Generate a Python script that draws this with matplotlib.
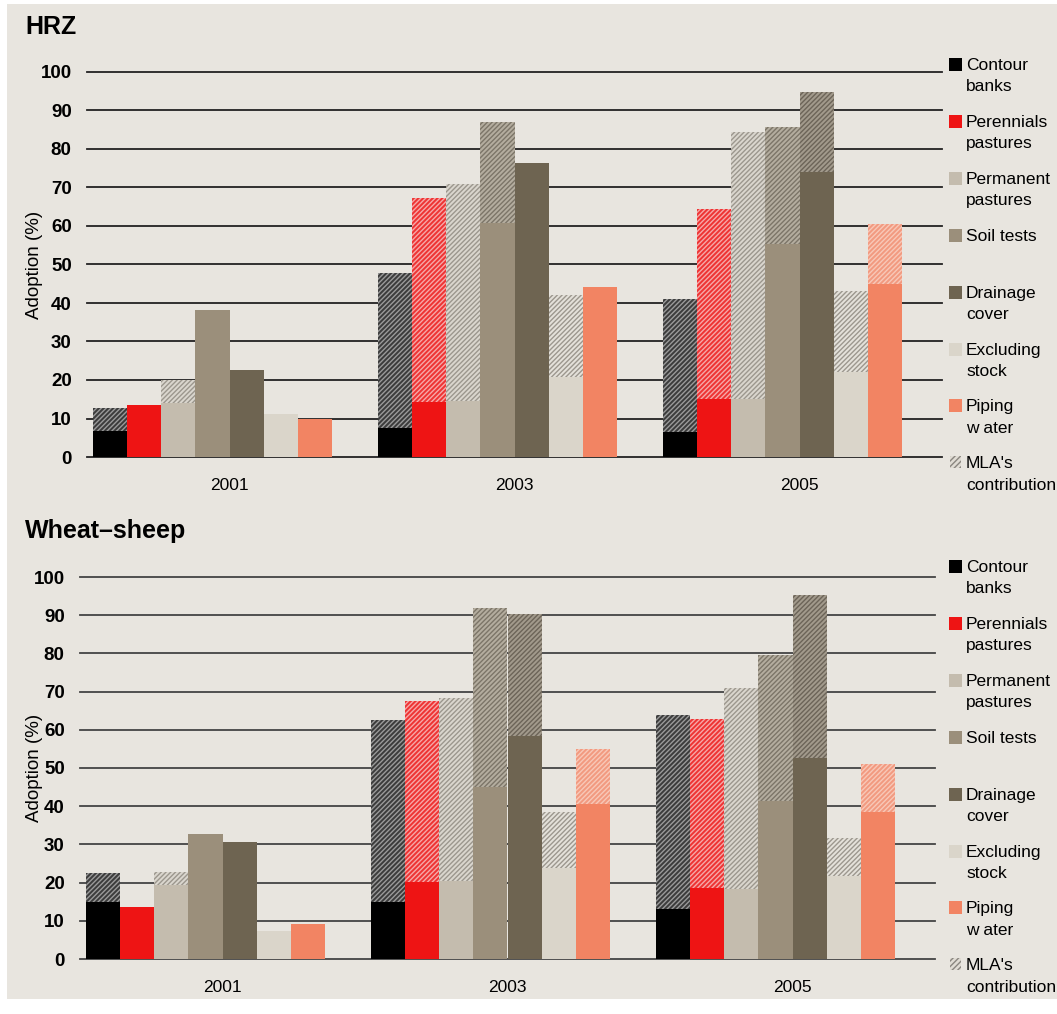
import matplotlib
matplotlib.use("Agg")
import matplotlib.pyplot as plt
from matplotlib.patches import Rectangle
import numpy as np

plt.rcParams['font.family'] = ['Liberation Sans', 'DejaVu Sans']
plt.rcParams['hatch.linewidth'] = 1.0

years = ['2001', '2003', '2005']
series = ['Contour\nbanks', 'Perennials\npastures', 'Permanent\npastures', 'Soil tests',
          'Drainage\ncover', 'Excluding\nstock', 'Piping\nw ater']
mla_label = "MLA's\ncontribution"

colors = ['#000000', '#EE1414', '#C4BCAE', '#9B8F7B', '#6E6451', '#DAD5CA', '#F28463']
mla_face = ['#3C3C3C', '#EE3434', '#DAD6CE', '#B4AD9F', '#A29A8C', '#E4E1DA', '#F29A80']
mla_hatch = ['#9A9A9A', '#F6A8A8', '#9C978E', '#7C7568', '#6C6458', '#9C978E', '#F8C8B8']

# HRZ: base (non-MLA) and total (incl. MLA's contribution) per series for 2001, 2003, 2005
hrz_base = [[6.8, 7.6, 6.6],
            [13.5, 14.4, 15.1],
            [14.0, 14.6, 15.1],
            [38.2, 60.9, 55.4],
            [22.6, 76.3, 74.1],
            [11.2, 20.9, 22.2],
            [9.9, 44.2, 45.0]]
hrz_total = [[12.7, 47.9, 41.0],
             [13.5, 67.2, 64.4],
             [20.0, 70.9, 84.4],
             [38.2, 87.0, 85.7],
             [22.6, 76.3, 94.8],
             [11.2, 42.0, 43.2],
             [9.9, 44.2, 60.6]]

# Wheat-sheep
ws_base = [[14.8, 14.8, 13.2],
           [13.5, 20.1, 18.7],
           [19.3, 20.5, 18.4],
           [32.6, 45.1, 41.4],
           [30.7, 58.5, 52.7],
           [7.4, 23.7, 21.6],
           [9.2, 40.7, 38.6]]
ws_total = [[22.5, 62.6, 63.9],
            [13.5, 67.6, 62.7],
            [22.9, 68.3, 70.9],
            [32.6, 92.0, 79.7],
            [30.7, 90.3, 95.4],
            [7.4, 38.5, 31.8],
            [9.2, 55.1, 51.0]]

W, H = 1057, 1014
fig = plt.figure(figsize=(W / 100, H / 100), dpi=100)
fig.patch.set_facecolor('white')
fig.add_artist(Rectangle((7 / W, 1 - 999 / H), 1 - 7 / W, (999 - 4) / H,
                         transform=fig.transFigure, facecolor='#E8E5DF',
                         edgecolor='none', zorder=-10))


def fx(px):
    return px / W


def fy(py):
    return 1 - py / H


def draw_panel(left, top_px, bottom_px, right_px, base, total, title, title_y, legend_top,
               grid_color):
    ax = fig.add_axes([fx(left), fy(bottom_px), fx(right_px - left), (bottom_px - top_px) / H])
    ax.set_facecolor('none')
    nser = len(series)
    bw = 0.12
    x = np.arange(len(years))
    for j in range(nser):
        pos = x - 0.48 + bw * (j + 0.5)
        b = np.array(base[j])
        t = np.array(total[j])
        ax.bar(pos, b, width=bw, color=colors[j], linewidth=0, zorder=3)
        ax.bar(pos, t - b, bottom=b, width=bw, facecolor=mla_face[j],
               edgecolor=mla_hatch[j], hatch='///////', linewidth=0, zorder=3)
    ax.set_xlim(-0.5, 2.5)
    ax.set_ylim(0, 100)
    ax.set_yticks(np.arange(0, 101, 10))
    ax.yaxis.grid(True, color=grid_color, linewidth=1.3, zorder=0)
    ax.set_axisbelow(True)
    for s in ax.spines.values():
        s.set_visible(False)
    ax.tick_params(axis='y', length=0, pad=11, labelsize=13.5)
    for lab in ax.get_yticklabels():
        lab.set_fontweight('bold')
    ax.set_xticks(x)
    ax.set_xticklabels(years, fontsize=12.5)
    ax.tick_params(axis='x', length=0, pad=15)
    for g in ax.get_ygridlines():
        g.set_clip_on(False)
    ax.set_ylabel('Adoption (%)', fontsize=13.5)
    ax.yaxis.set_label_coords((43 - left) / (right_px - left), 0.5)
    fig.text(fx(25), fy(title_y), title, fontsize=18, fontweight='bold', va='center', ha='left')

    # legend
    step = 56.9
    labels = series + [mla_label]
    for k, lab in enumerate(labels):
        ty = legend_top + step * k
        if k < nser:
            fig.add_artist(Rectangle((fx(949), fy(ty + 13)), 13 / W, 13 / H,
                                     transform=fig.transFigure, facecolor=colors[k],
                                     edgecolor='none'))
        else:
            fig.add_artist(Rectangle((fx(950), fy(ty + 12)), 11 / W, 12 / H,
                                     transform=fig.transFigure, facecolor='#E0DCD4',
                                     edgecolor='#8a8680', hatch='//////', linewidth=0))
        fig.text(fx(966), fy(ty), lab, fontsize=12.5, va='top', ha='left',
                 linespacing=1.52)
    return ax


draw_panel(87, 72, 457, 942, hrz_base, hrz_total, 'HRZ', 27, 58, '#222222')
draw_panel(80, 577, 959, 935, ws_base, ws_total, 'Wheat\u2013sheep', 531, 560, '#444444')

fig.savefig('out.png', dpi=100, facecolor=fig.get_facecolor())
